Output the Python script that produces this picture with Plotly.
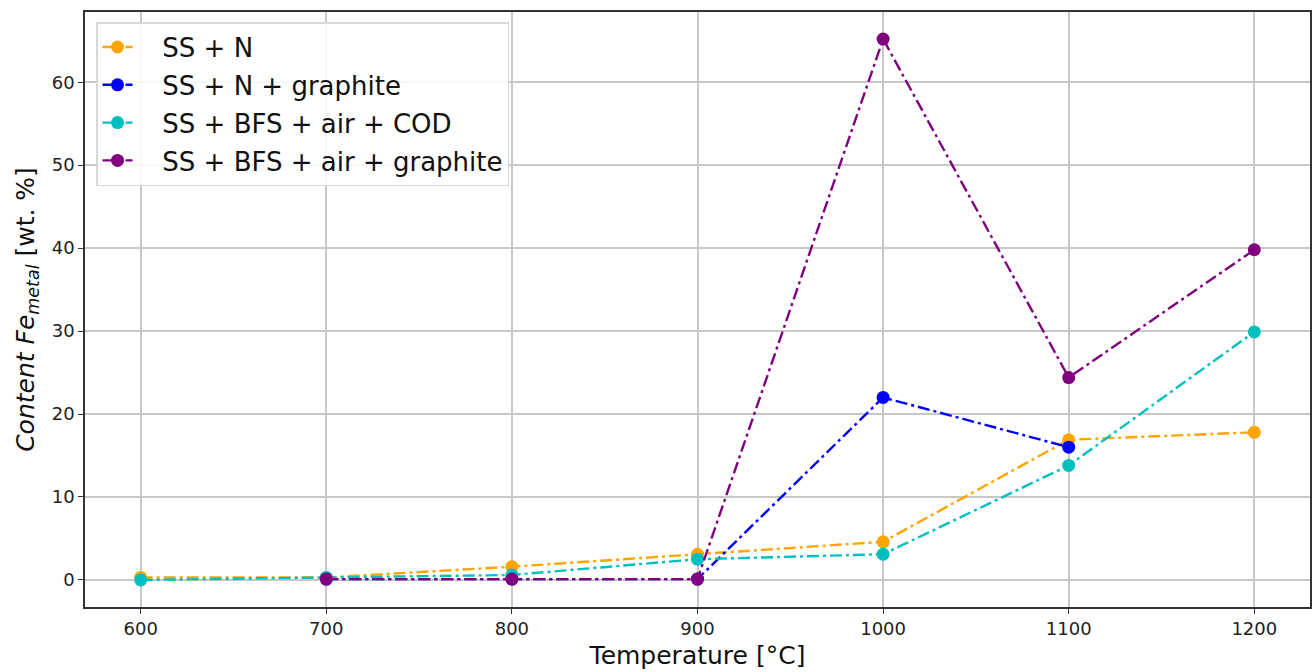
import plotly.graph_objects as go

temps = [600, 700, 800, 900, 1000, 1100, 1200]
ss_n = [0.3, 0.3, 1.6, 3.1, 4.6, 16.9, 17.8]
ss_n_graphite_t = [700, 800, 900, 1000, 1100]
ss_n_graphite = [0.1, 0.1, 0.1, 22.0, 16.0]
ss_bfs_cod = [0.0, 0.3, 0.6, 2.5, 3.1, 13.8, 29.9]
ss_bfs_graphite_t = [700, 800, 900, 1000, 1100, 1200]
ss_bfs_graphite = [0.1, 0.1, 0.1, 65.2, 24.4, 39.8]

series = [
    ("SS + N", temps, ss_n, "#FFA500"),
    ("SS + N + graphite", ss_n_graphite_t, ss_n_graphite, "#0000FF"),
    ("SS + BFS + air + COD", temps, ss_bfs_cod, "#00BFBF"),
    ("SS + BFS + air + graphite", ss_bfs_graphite_t, ss_bfs_graphite, "#800080"),
]

fig = go.Figure()
for i, (name, x, y, c) in enumerate(series):
    fig.add_trace(go.Scatter(
        x=x, y=y, name="\u00a0\u00a0\u00a0" + name, mode="lines+markers",
        legendgroup=f"g{i}",
        line=dict(color=c, width=2.4, dash="12px,4px,3px,4px"),
        marker=dict(color=c, size=13),
    ))

font = "DejaVu Sans, sans-serif"
fig.update_layout(
    width=1312, height=672,
    margin=dict(l=85, r=2, t=12, b=65),
    paper_bgcolor="white", plot_bgcolor="white",
    font=dict(family=font, color="#222"),
    legend=dict(
        x=0.009, y=0.983, xanchor="left", yanchor="top",
        bgcolor="rgba(255,255,255,0.85)", bordercolor="#d8d8d8", borderwidth=1.5,
        font=dict(size=26, color="#111"), tracegroupgap=1,
    ),
    showlegend=True,
)
fig.update_xaxes(
    range=[570, 1230], tickvals=temps, ticks="outside", ticklen=5, tickcolor="#333",
    tickfont=dict(size=18), showgrid=True, gridcolor="#c8c8c8", gridwidth=1.5,
    showline=True, linecolor="#333", linewidth=1.5, mirror=True, zeroline=False,
    automargin=False,
    title=dict(text="Temperature [°C]", font=dict(size=25, color="#111"), standoff=8),
)
fig.update_yaxes(
    range=[-3.26, 68.46], tickvals=[0, 10, 20, 30, 40, 50, 60], ticks="outside", ticklen=5,
    tickcolor="#333", tickfont=dict(size=18), showgrid=True, gridcolor="#c8c8c8", gridwidth=1.5,
    showline=True, linecolor="#333", linewidth=1.5, mirror=True, zeroline=False,
    automargin=False,
    title=dict(text="<i>Content Fe<sub>metal</sub></i> [wt. %]", font=dict(size=25, color="#111"), standoff=10),
)

fig.write_html("out.html", config={"displayModeBar": False},
               post_script="document.body.style.margin='0';document.body.style.overflow='hidden';")
